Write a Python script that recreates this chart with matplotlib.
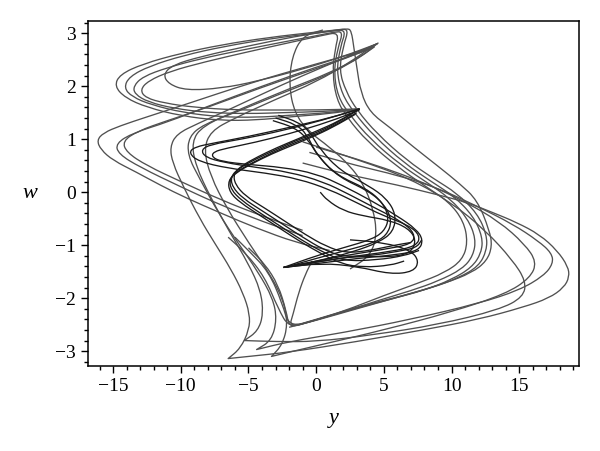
import matplotlib
matplotlib.use("Agg")
import matplotlib.pyplot as plt
import numpy as np
from matplotlib.path import Path
from matplotlib.patches import PathPatch
from matplotlib.ticker import MultipleLocator

# (y, w) points, one array per visible strand

# big loops running through both lobes (grey)
outer_a = np.array([
    (-1.0, 0.55), (2.0, 0.35), (6.1, 0.13), (9.0, -0.05), (11.1, -0.19), (13.0, -0.38),
    (14.8, -0.57), (16.5, -0.8), (17.8, -1.1), (18.6, -1.4), (18.7, -1.6), (18.3, -1.8),
    (17.2, -2.0), (15.3, -2.17), (12.0, -2.4), (7.9, -2.6), (3.0, -2.82), (-2.0, -3.02),
    (-5.0, -3.1), (-6.5, -3.14), (-5.6, -2.95), (-4.95, -2.6), (-4.9, -2.3), (-5.4, -1.9),
    (-6.3, -1.45), (-7.4, -1.0), (-8.6, -0.5), (-9.8, 0.1), (-10.6, 0.55), (-10.8, 0.85),
    (-10.3, 1.1), (-8.7, 1.3), (-6.5, 1.55), (-4.0, 1.85), (-1.0, 2.2), (2.0, 2.52),
    (4.5, 2.8), (3.4, 2.66), (0.0, 2.42), (-5.0, 2.05), (-9.6, 1.66), (-12.5, 1.42),
    (-14.5, 1.25), (-15.7, 1.12), (-16.2, 0.98), (-15.9, 0.8), (-15.0, 0.6), (-13.3, 0.38),
    (-11.5, 0.13), (-9.6, -0.11), (-7.0, -0.4), (-4.4, -0.68), (-1.5, -0.95), (1.0, -1.1),
])
outer_b = np.array([
    (-0.5, 0.75), (3.0, 0.5), (6.0, 0.32), (9.0, 0.08), (12.0, -0.28), (14.5, -0.6),
    (16.4, -0.92), (17.4, -1.15), (17.5, -1.35), (16.8, -1.58), (15.0, -1.85), (12.0, -2.1),
    (7.0, -2.4), (2.0, -2.65), (-2.0, -2.82), (-4.4, -2.97), (-3.3, -2.8), (-2.9, -2.4),
    (-3.2, -2.0), (-4.3, -1.5), (-5.8, -0.95), (-7.2, -0.4), (-8.6, 0.25), (-9.5, 0.7),
    (-9.4, 1.05), (-8.3, 1.28), (-6.0, 1.5), (-3.0, 1.82), (0.0, 2.12), (2.5, 2.42),
    (4.3, 2.74), (3.2, 2.62), (0.0, 2.36), (-4.0, 2.0), (-8.0, 1.62), (-11.0, 1.32),
    (-13.5, 1.12), (-14.8, 0.92), (-14.6, 0.72), (-13.0, 0.47), (-10.0, 0.1), (-7.0, -0.25),
    (-4.0, -0.55), (-1.0, -0.82),
])
outer_c = np.array([
    (0.0, 0.85), (4.0, 0.55), (8.0, 0.18), (11.0, -0.18), (13.5, -0.55), (15.4, -0.98),
    (16.3, -1.32), (15.8, -1.62), (14.0, -1.92), (10.0, -2.26), (5.0, -2.6), (0.0, -2.9),
    (-2.5, -3.05), (-3.3, -3.1), (-2.5, -2.88), (-2.1, -2.5), (-2.4, -2.05), (-3.4, -1.55),
    (-5.0, -0.95), (-6.6, -0.3), (-7.8, 0.3), (-8.3, 0.8), (-7.8, 1.15), (-6.0, 1.4),
    (-3.0, 1.75), (0.0, 2.08), (2.5, 2.45), (4.2, 2.76), (3.0, 2.6), (0.0, 2.33),
    (-4.0, 1.98), (-8.0, 1.6), (-11.0, 1.35), (-13.2, 1.15), (-14.3, 0.96), (-14.0, 0.75),
    (-12.5, 0.5), (-10.0, 0.2), (-7.0, -0.15), (-4.0, -0.45), (-1.0, -0.72),
])
outer_d = np.array([
    (-1.0, 0.95), (3.0, 0.62), (7.0, 0.25), (10.0, -0.2), (12.5, -0.72), (14.5, -1.28),
    (15.5, -1.68), (15.3, -1.98), (13.5, -2.22), (9.0, -2.5), (4.0, -2.7), (0.0, -2.82),
    (-3.0, -2.82), (-5.3, -2.8), (-4.3, -2.62), (-3.9, -2.3), (-4.1, -1.85), (-5.0, -1.35),
    (-6.4, -0.75), (-7.8, -0.1), (-8.9, 0.5), (-9.2, 0.95), (-8.4, 1.25), (-5.5, 1.58),
    (-2.0, 1.95), (1.0, 2.25), (3.3, 2.55), (4.6, 2.82),
])

# loops of the upper band and right lobe (grey)
top_a = np.array([
    (3.2, 1.57), (1.0, 1.48), (-2.0, 1.42), (-4.4, 1.36), (-7.1, 1.35), (-10.0, 1.44),
    (-12.5, 1.6), (-14.1, 1.78), (-14.9, 2.0), (-14.5, 2.22), (-12.8, 2.42), (-10.0, 2.62),
    (-7.0, 2.78), (-3.5, 2.92), (0.0, 3.02), (1.8, 3.07), (2.4, 3.07), (2.0, 2.75),
    (1.7, 2.3), (2.2, 1.9), (3.0, 1.55), (4.5, 1.1), (6.7, 0.6), (8.7, 0.25), (10.4, -0.02),
    (11.9, -0.4), (12.6, -0.8), (12.6, -1.1), (12.0, -1.4), (10.5, -1.62), (8.6, -1.8),
    (6.0, -1.98), (3.0, -2.17), (0.0, -2.4), (-2.0, -2.55), (-2.5, -2.1), (-3.5, -1.5),
    (-5.0, -1.1), (-6.0, -0.85),
])
top_b = np.array([
    (3.2, 1.57), (1.0, 1.5), (-2.0, 1.45), (-4.4, 1.41), (-7.1, 1.42), (-9.8, 1.5),
    (-12.2, 1.65), (-13.6, 1.8), (-14.2, 1.97), (-13.8, 2.18), (-12.3, 2.38), (-9.8, 2.58),
    (-6.8, 2.75), (-3.3, 2.9), (0.0, 3.0), (1.5, 3.05), (2.2, 3.05), (1.8, 2.75), (1.5, 2.3),
    (1.9, 1.85), (2.8, 1.5), (4.3, 1.05), (6.5, 0.55), (8.5, 0.2), (10.2, -0.08),
    (11.6, -0.45), (12.3, -0.85), (12.2, -1.15), (11.5, -1.42), (10.0, -1.65), (8.0, -1.85),
    (5.5, -2.02), (2.5, -2.22), (-0.5, -2.45), (-2.0, -2.56), (-2.8, -2.2), (-3.8, -1.6),
    (-5.2, -1.15), (-6.5, -0.85),
])
top_c = np.array([
    (3.2, 1.57), (0.5, 1.52), (-2.5, 1.5), (-5.0, 1.48), (-8.0, 1.5), (-10.5, 1.58),
    (-12.4, 1.7), (-13.4, 1.85), (-13.5, 2.0), (-12.8, 2.18), (-11.0, 2.35), (-8.5, 2.52),
    (-5.5, 2.68), (-2.5, 2.83), (0.0, 2.95), (1.3, 3.02), (2.0, 3.03), (1.6, 2.72),
    (1.3, 2.28), (1.6, 1.8), (2.5, 1.45), (4.0, 1.0), (6.2, 0.52), (8.2, 0.18), (9.9, -0.12),
    (11.2, -0.5), (11.8, -0.88), (11.6, -1.2), (10.8, -1.45), (9.0, -1.68), (7.0, -1.86),
    (4.5, -2.05), (1.5, -2.3), (-1.0, -2.48), (-2.0, -2.55), (-2.2, -2.25), (-2.8, -1.75),
    (-3.8, -1.35), (-5.0, -1.05),
])
top_d = np.array([
    (3.2, 1.57), (0.0, 1.55), (-3.0, 1.55), (-6.0, 1.55), (-9.0, 1.6), (-11.2, 1.68),
    (-12.6, 1.78), (-13.0, 1.93), (-12.4, 2.1), (-10.8, 2.28), (-8.2, 2.46), (-5.0, 2.65),
    (-2.0, 2.82), (0.5, 2.96), (1.7, 3.02), (1.4, 2.7), (1.2, 2.25), (1.5, 1.75), (2.3, 1.4),
    (3.8, 0.95), (6.0, 0.48), (8.0, 0.12), (9.8, -0.18), (10.9, -0.55), (11.2, -0.95),
    (10.8, -1.28), (9.5, -1.52), (7.5, -1.72), (5.0, -1.95), (2.0, -2.25), (-0.5, -2.45),
    (-2.0, -2.55),
])
top_e = np.array([
    (4.5, 2.8), (2.0, 2.56), (-1.0, 2.32), (-4.4, 2.09), (-7.0, 1.96), (-9.6, 1.92),
    (-10.9, 2.04), (-11.3, 2.22), (-10.6, 2.4), (-8.5, 2.56), (-5.0, 2.76), (-1.5, 2.94),
    (1.0, 3.04), (2.3, 3.09), (2.6, 3.05), (2.8, 2.7), (3.0, 2.36), (3.3, 1.87), (4.0, 1.5),
    (5.4, 1.23), (7.2, 0.85), (9.1, 0.47), (10.6, 0.16), (11.9, -0.15), (12.8, -0.72),
    (13.0, -1.02), (12.6, -1.3), (11.5, -1.52), (9.5, -1.72), (6.5, -1.95), (3.0, -2.2),
    (0.0, -2.42), (-2.0, -2.55), (-1.7, -2.3), (-1.3, -1.9), (-0.8, -1.55), (-0.3, -1.3),
])
mid_drop = np.array([
    (0.5, 3.06), (-1.0, 2.95), (-1.8, 2.55), (-2.0, 2.0), (-1.6, 1.5), (-0.6, 1.15),
    (1.0, 0.85), (2.5, 0.5), (3.5, 0.15), (4.2, -0.3), (4.5, -0.8), (4.0, -1.2), (2.5, -1.45),
])

# inner core (near black)
core_a = np.array([
    (3.2, 1.57), (1.0, 1.4), (-2.0, 1.22), (-5.0, 1.05), (-7.5, 0.93), (-9.0, 0.85),
    (-9.4, 0.74), (-8.7, 0.58), (-6.5, 0.45), (-3.7, 0.36), (-1.3, 0.25), (1.0, 0.05),
    (3.0, -0.2), (5.0, -0.45), (6.8, -0.62), (7.7, -0.82), (7.4, -1.02), (5.5, -1.12),
    (2.5, -1.22), (0.0, -1.32), (-1.5, -1.38), (-2.4, -1.42),
])
core_b = np.array([
    (3.2, 1.55), (1.0, 1.33), (-2.0, 1.1), (-4.5, 0.94), (-6.6, 0.83), (-7.6, 0.76),
    (-7.7, 0.66), (-7.0, 0.58), (-5.0, 0.52), (-2.5, 0.47), (0.0, 0.35), (2.0, 0.12),
    (4.0, -0.15), (6.0, -0.45), (7.4, -0.7), (7.9, -0.9), (7.6, -1.1), (6.0, -1.18),
    (3.0, -1.25), (0.0, -1.35), (-2.4, -1.42),
])
core_b2 = np.array([
    (3.2, 1.57), (0.5, 1.36), (-2.5, 1.16), (-5.5, 1.0), (-7.8, 0.9), (-8.5, 0.8),
    (-8.2, 0.66), (-6.8, 0.56), (-4.5, 0.47), (-2.0, 0.38), (0.5, 0.2), (2.5, -0.05),
    (4.5, -0.32), (6.3, -0.55), (7.3, -0.78), (7.1, -0.98), (5.0, -1.08), (2.0, -1.2),
    (-0.5, -1.33), (-2.4, -1.42),
])
core_c = np.array([
    (-3.0, 1.4), (-1.5, 1.28), (-0.7, 1.1), (0.0, 0.72), (1.5, 0.32), (3.7, 0.07),
    (4.9, -0.19), (5.4, -0.49), (5.0, -0.75), (4.0, -0.9), (2.4, -1.02), (0.0, -1.2),
    (-2.4, -1.42),
])
core_d = np.array([
    (-3.2, 1.35), (-1.6, 1.22), (-0.6, 1.0), (0.2, 0.65), (1.7, 0.28), (3.9, 0.02),
    (5.1, -0.25), (5.6, -0.55), (5.2, -0.82), (4.2, -0.96), (2.5, -1.08), (0.0, -1.25),
    (-2.3, -1.42),
])
core_e = np.array([
    (-2.8, 1.45), (-1.3, 1.32), (-0.5, 1.15), (0.3, 0.8), (1.8, 0.4), (3.9, 0.12),
    (5.2, -0.12), (5.9, -0.42), (5.7, -0.75), (4.6, -0.95), (2.8, -1.12), (0.5, -1.28),
    (-2.4, -1.42),
])
core_f = np.array([
    (3.2, 1.57), (1.5, 1.3), (0.0, 1.12), (-1.5, 0.97), (-3.0, 0.8), (-4.5, 0.62),
    (-5.7, 0.45), (-6.3, 0.3), (-6.2, 0.1), (-5.4, -0.12), (-4.0, -0.35), (-2.5, -0.6),
    (-1.0, -0.85), (0.5, -1.08), (2.0, -1.22), (4.0, -1.2), (6.0, -1.12), (7.4, -1.05),
    (7.8, -0.9),
])
core_g = np.array([
    (3.0, 1.5), (1.3, 1.25), (-0.2, 1.07), (-1.7, 0.92), (-3.2, 0.75), (-4.6, 0.57),
    (-5.8, 0.4), (-6.4, 0.25), (-6.3, 0.05), (-5.5, -0.16), (-4.1, -0.4), (-2.6, -0.65),
    (-1.1, -0.9), (0.4, -1.12), (2.0, -1.3), (4.5, -1.28), (6.5, -1.2), (7.6, -1.1),
])
core_h = np.array([
    (3.2, 1.57), (1.6, 1.33), (0.1, 1.16), (-1.4, 1.0), (-2.9, 0.84), (-4.3, 0.67),
    (-5.5, 0.5), (-6.1, 0.35), (-6.0, 0.15), (-5.2, -0.08), (-3.8, -0.3), (-2.3, -0.55),
    (-0.8, -0.8), (0.7, -1.02), (2.2, -1.15), (4.0, -1.1), (5.8, -1.0), (7.0, -0.95),
])
core_i = np.array([
    (2.9, 1.47), (1.2, 1.22), (-0.3, 1.04), (-1.8, 0.88), (-3.3, 0.72), (-4.8, 0.53),
    (-5.9, 0.37), (-6.5, 0.22), (-6.4, 0.0), (-5.6, -0.2), (-4.2, -0.43), (-2.7, -0.68),
    (-1.2, -0.93), (0.3, -1.15), (1.8, -1.35), (3.5, -1.42), (5.5, -1.38), (6.5, -1.3),
])
core_j = np.array([
    (-2.4, -1.42), (0.0, -1.32), (3.0, -1.2), (5.4, -1.23), (7.0, -1.15), (7.4, -0.9),
    (6.8, -0.68), (5.4, -0.53), (3.5, -0.45), (2.0, -0.35), (0.8, -0.15), (0.3, 0.0),
])
core_k = np.array([
    (-2.4, -1.42), (0.4, -1.34), (3.0, -1.4), (5.5, -1.55), (7.2, -1.5), (7.6, -1.3),
    (7.0, -1.1), (5.0, -0.95), (2.5, -0.9),
])

grey_strands = [outer_a, outer_b, outer_c, outer_d,
                top_a, top_b, top_c, top_d, top_e, mid_drop]
dark_strands = [core_a, core_b, core_b2, core_c, core_d, core_e, core_f,
                core_g, core_h, core_i, core_j, core_k]

x_ticks = [-15, -10, -5, 0, 5, 10, 15]
y_ticks = [-3, -2, -1, 0, 1, 2, 3]


def smooth_path(pts, ax):
    # quadratic B-spline through the read points, drawn by matplotlib as Bezier
    # pieces; sharp turn-backs (cusps) are kept as corners
    disp = ax.transData.transform(pts)
    verts = [pts[0], (pts[0] + pts[1]) / 2]
    codes = [Path.MOVETO, Path.LINETO]
    for i in range(1, len(pts) - 1):
        a = disp[i] - disp[i - 1]
        b = disp[i + 1] - disp[i]
        cos = np.dot(a, b) / (np.linalg.norm(a) * np.linalg.norm(b) + 1e-9)
        mid = (pts[i] + pts[i + 1]) / 2
        if cos < -0.6:
            verts += [pts[i], mid]
            codes += [Path.LINETO, Path.LINETO]
        else:
            verts += [pts[i], mid]
            codes += [Path.CURVE3, Path.CURVE3]
    verts.append(pts[-1])
    codes.append(Path.LINETO)
    return Path(np.array(verts), codes)


plt.rcParams["font.family"] = ["Liberation Serif", "DejaVu Serif"]

fig = plt.figure(figsize=(6.0, 4.51), dpi=100)
ax = fig.add_axes([0.1467, 0.1885, 0.818, 0.765])
ax.set_xlim(-16.85, 19.4)
ax.set_ylim(-3.28, 3.23)

for s in grey_strands:
    ax.add_patch(PathPatch(smooth_path(s, ax), fill=False, edgecolor="#505050",
                           lw=0.95, joinstyle="round"))
for s in dark_strands:
    ax.add_patch(PathPatch(smooth_path(s, ax), fill=False, edgecolor="#1a1a1a",
                           lw=0.95, joinstyle="round"))

ax.set_xticks(x_ticks)
ax.set_yticks(y_ticks)
ax.xaxis.set_minor_locator(MultipleLocator(1))
ax.yaxis.set_minor_locator(MultipleLocator(0.2))
ax.tick_params(which="both", direction="out", top=False, right=False,
               labelsize=14, width=1.0)
ax.tick_params(which="major", length=5)
ax.tick_params(which="minor", length=3)
for sp in ax.spines.values():
    sp.set_linewidth(1.1)

ax.set_xlabel("y", fontsize=16, style="italic", va="center")
ax.set_ylabel("w", fontsize=16, style="italic", rotation=0, va="center")
ax.xaxis.set_label_coords(0.5, -0.151)
ax.yaxis.set_label_coords(-0.118, 0.5)

fig.savefig("out.png", dpi=100)
